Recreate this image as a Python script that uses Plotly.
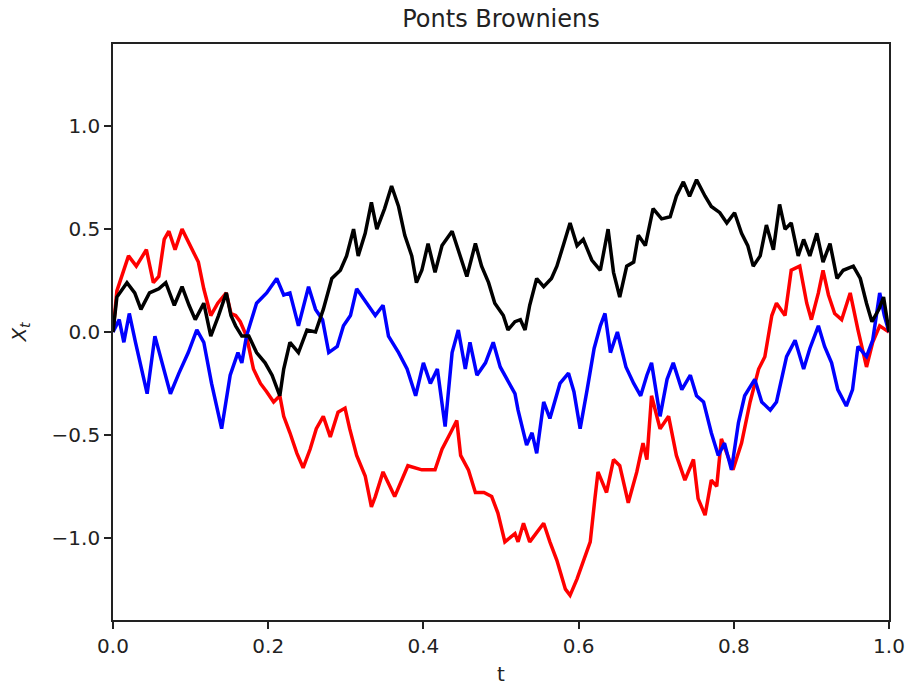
import plotly.graph_objects as go

# Red path
t_red = [0.0, 0.005, 0.02, 0.03, 0.043, 0.052, 0.059, 0.066, 0.072, 0.08, 0.089, 0.1, 0.11, 0.117,
         0.126, 0.135, 0.146, 0.152, 0.158, 0.164, 0.172, 0.181, 0.19, 0.198, 0.207, 0.215, 0.22,
         0.228, 0.237, 0.245, 0.254, 0.262, 0.271, 0.28, 0.29, 0.299, 0.305, 0.314, 0.325, 0.333,
         0.338, 0.348, 0.363, 0.38, 0.398, 0.415, 0.424, 0.435, 0.443, 0.448, 0.458, 0.467, 0.478,
         0.488, 0.496, 0.505, 0.518, 0.522, 0.529, 0.537, 0.555, 0.563, 0.572, 0.583, 0.589, 0.598,
         0.606, 0.615, 0.621, 0.625, 0.636, 0.645, 0.653, 0.664, 0.675, 0.683, 0.688, 0.694, 0.705,
         0.716, 0.726, 0.737, 0.748, 0.754, 0.763, 0.771, 0.778, 0.784, 0.799, 0.81, 0.821, 0.832,
         0.84, 0.849, 0.855, 0.866, 0.874, 0.885, 0.894, 0.9, 0.909, 0.915, 0.922, 0.93, 0.939,
         0.95, 0.96, 0.971, 0.979, 0.988, 1.0]
x_red = [0.0, 0.2, 0.37, 0.32, 0.40, 0.24, 0.27, 0.45, 0.49, 0.40, 0.50, 0.42, 0.34, 0.21,
         0.08, 0.14, 0.19, 0.09, 0.08, 0.05, -0.02, -0.18, -0.25, -0.29, -0.34, -0.31, -0.41,
         -0.49, -0.59, -0.66, -0.57, -0.47, -0.41, -0.51, -0.39, -0.37, -0.47, -0.60, -0.70, -0.85,
         -0.80, -0.68, -0.80, -0.65, -0.67, -0.67, -0.57, -0.49, -0.43, -0.60, -0.67, -0.78, -0.78,
         -0.80, -0.88, -1.02, -0.98, -1.02, -0.93, -1.02, -0.93, -1.02, -1.11, -1.25, -1.28, -1.20,
         -1.12, -1.02, -0.81, -0.68, -0.78, -0.62, -0.65, -0.83, -0.68, -0.54, -0.62, -0.31, -0.47,
         -0.41, -0.60, -0.72, -0.62, -0.81, -0.89, -0.72, -0.75, -0.52, -0.67, -0.54, -0.34, -0.18,
         -0.12, 0.08, 0.14, 0.08, 0.30, 0.32, 0.14, 0.06, 0.19, 0.30, 0.18, 0.09, 0.06,
         0.19, 0.01, -0.17, -0.05, 0.03, 0.0]

# Blue path
t_blue = [0.0, 0.008, 0.014, 0.021, 0.029, 0.036, 0.044, 0.054, 0.065, 0.074, 0.085, 0.097, 0.108,
          0.117, 0.127, 0.14, 0.151, 0.161, 0.166, 0.172, 0.185, 0.198, 0.211, 0.22, 0.228, 0.239,
          0.252, 0.261, 0.27, 0.278, 0.289, 0.297, 0.306, 0.314, 0.327, 0.338, 0.348, 0.355, 0.368,
          0.379, 0.39, 0.4, 0.409, 0.418, 0.428, 0.437, 0.445, 0.454, 0.46, 0.469, 0.48, 0.49,
          0.499, 0.51, 0.518, 0.522, 0.533, 0.54, 0.546, 0.555, 0.563, 0.576, 0.587, 0.594, 0.602,
          0.611, 0.62, 0.628, 0.634, 0.641, 0.65, 0.661, 0.671, 0.68, 0.688, 0.694, 0.705, 0.714,
          0.722, 0.733, 0.744, 0.752, 0.761, 0.771, 0.78, 0.788, 0.797, 0.806, 0.814, 0.827, 0.836,
          0.847, 0.855, 0.868, 0.879, 0.89, 0.898, 0.909, 0.917, 0.926, 0.934, 0.945, 0.953, 0.96,
          0.971, 0.979, 0.988, 0.994, 1.0]
x_blue = [0.0, 0.06, -0.05, 0.09, -0.05, -0.17, -0.30, -0.02, -0.18, -0.30, -0.20, -0.10, 0.01,
          -0.05, -0.25, -0.47, -0.21, -0.10, -0.15, -0.02, 0.14, 0.19, 0.26, 0.18, 0.19, 0.03,
          0.22, 0.11, 0.06, -0.10, -0.07, 0.03, 0.08, 0.21, 0.14, 0.08, 0.13, -0.02, -0.10,
          -0.18, -0.31, -0.15, -0.25, -0.18, -0.46, -0.10, 0.01, -0.18, -0.05, -0.21, -0.15, -0.05,
          -0.17, -0.25, -0.30, -0.38, -0.55, -0.49, -0.59, -0.34, -0.42, -0.25, -0.20, -0.29, -0.47,
          -0.28, -0.08, 0.03, 0.09, -0.10, 0.0, -0.17, -0.25, -0.31, -0.21, -0.15, -0.41, -0.23,
          -0.15, -0.28, -0.21, -0.31, -0.34, -0.49, -0.60, -0.54, -0.67, -0.44, -0.31, -0.23, -0.34,
          -0.38, -0.34, -0.12, -0.04, -0.18, -0.08, 0.03, -0.07, -0.15, -0.28, -0.36, -0.28, -0.07,
          -0.12, -0.04, 0.19, 0.08, 0.0]

# Black path
t_black = [0.0, 0.005, 0.018, 0.028, 0.036, 0.047, 0.059, 0.068, 0.079, 0.089, 0.098, 0.106, 0.117,
           0.126, 0.136, 0.146, 0.152, 0.158, 0.166, 0.175, 0.185, 0.196, 0.205, 0.215, 0.22,
           0.228, 0.239, 0.25, 0.261, 0.271, 0.282, 0.293, 0.301, 0.31, 0.316, 0.325, 0.333, 0.34,
           0.35, 0.359, 0.368, 0.376, 0.385, 0.391, 0.398, 0.406, 0.415, 0.424, 0.437, 0.448,
           0.456, 0.467, 0.475, 0.484, 0.492, 0.503, 0.509, 0.518, 0.525, 0.531, 0.537, 0.546,
           0.555, 0.565, 0.572, 0.581, 0.589, 0.598, 0.606, 0.617, 0.628, 0.638, 0.645, 0.653,
           0.662, 0.671, 0.677, 0.686, 0.696, 0.707, 0.718, 0.726, 0.735, 0.743, 0.752, 0.763,
           0.771, 0.782, 0.791, 0.801, 0.81, 0.818, 0.825, 0.834, 0.842, 0.851, 0.859, 0.866,
           0.874, 0.883, 0.89, 0.898, 0.907, 0.915, 0.924, 0.933, 0.941, 0.954, 0.963, 0.971,
           0.978, 0.987, 0.993, 1.0]
x_black = [0.0, 0.17, 0.24, 0.19, 0.11, 0.19, 0.21, 0.24, 0.13, 0.22, 0.13, 0.06, 0.14,
           -0.02, 0.08, 0.19, 0.08, 0.03, -0.02, -0.02, -0.10, -0.15, -0.21, -0.31, -0.18,
           -0.05, -0.10, 0.01, 0.0, 0.11, 0.26, 0.30, 0.37, 0.50, 0.37, 0.48, 0.63, 0.50,
           0.60, 0.71, 0.61, 0.47, 0.37, 0.24, 0.30, 0.43, 0.29, 0.42, 0.49, 0.37,
           0.27, 0.43, 0.32, 0.24, 0.14, 0.08, 0.01, 0.05, 0.06, 0.01, 0.13, 0.26,
           0.22, 0.26, 0.32, 0.43, 0.53, 0.42, 0.45, 0.35, 0.30, 0.50, 0.29, 0.17,
           0.32, 0.34, 0.47, 0.42, 0.60, 0.55, 0.56, 0.66, 0.73, 0.66, 0.74, 0.66,
           0.61, 0.58, 0.53, 0.58, 0.48, 0.42, 0.32, 0.37, 0.52, 0.40, 0.62, 0.50,
           0.53, 0.37, 0.45, 0.37, 0.48, 0.34, 0.43, 0.26, 0.30, 0.32, 0.26, 0.14,
           0.05, 0.11, 0.17, 0.0]

series = [("red", t_red, x_red), ("blue", t_blue, x_blue), ("black", t_black, x_black)]

x_ticks = [0.0, 0.2, 0.4, 0.6, 0.8, 1.0]
y_ticks = [-1.0, -0.5, 0.0, 0.5, 1.0]

fig = go.Figure()
for color, t, x in series:
    fig.add_trace(go.Scatter(x=t, y=x, mode="lines",
                             line=dict(color=color, width=3.5), showlegend=False))

font = dict(family="DejaVu Sans", size=20, color="#222222")
axis_common = dict(showgrid=False, zeroline=False, showline=True, linecolor="#222222",
                   linewidth=1.6, mirror=True, ticks="outside", ticklen=7, tickwidth=1.6,
                   tickcolor="#222222", tickfont=font, automargin=False)

fig.update_layout(
    width=906, height=686,
    margin=dict(l=113, r=17, t=44, b=66),
    paper_bgcolor="white", plot_bgcolor="white",
    font=font,
    title=dict(text="Ponts Browniens", x=0.5, xref="paper", y=1 - 19 / 686,
               yref="container", yanchor="middle", xanchor="center",
               font=dict(family="DejaVu Sans", size=24, color="#222222")),
    xaxis=dict(range=[0, 1], tickvals=x_ticks, ticktext=[f"{v:.1f}" for v in x_ticks],
               title=dict(text="t", standoff=11, font=font), **axis_common),
    yaxis=dict(range=[-1.4, 1.4], tickvals=y_ticks,
               ticktext=[f"{v:.1f}".replace("-", "\u2212") for v in y_ticks],
               title=dict(text="<i>X</i><sub><i>t</i></sub>", standoff=20, font=font),
               **axis_common),
)

fig.write_html("out.html", config={"displayModeBar": False},
               post_script="document.body.style.margin='0';")
